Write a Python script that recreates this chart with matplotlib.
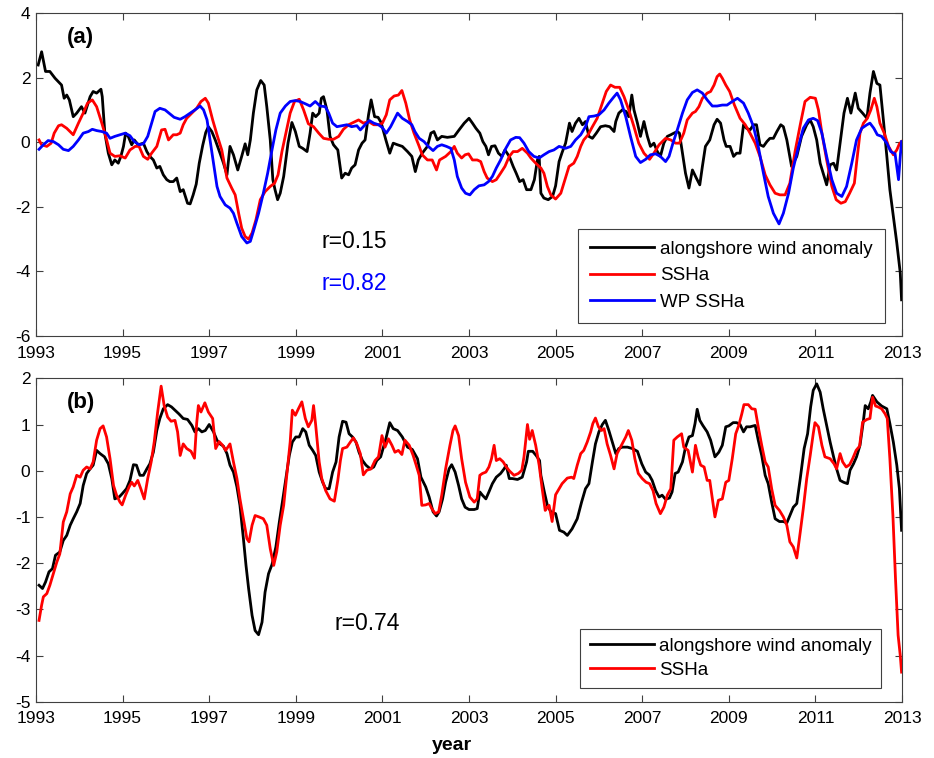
import numpy as np
import matplotlib.pyplot as plt

plt.rcParams['font.family'] = ['Liberation Sans', 'DejaVu Sans']
plt.rcParams['axes.unicode_minus'] = False

# ---- panel (a): alongshore wind anomaly, coastal SSHa, western Pacific SSHa ----
t_wind_a = [1993.05, 1993.13, 1993.22, 1993.32, 1993.44, 1993.59, 1993.65, 1993.71, 1993.77, 1993.86,
            1993.94, 1994.05, 1994.13, 1994.25, 1994.32, 1994.40, 1994.50, 1994.53, 1994.59, 1994.67,
            1994.75, 1994.82, 1994.90, 1994.96, 1995.02, 1995.07, 1995.13, 1995.21, 1995.27, 1995.36,
            1995.48, 1995.56, 1995.63, 1995.71, 1995.79, 1995.86, 1995.94, 1996.02, 1996.09, 1996.17,
            1996.25, 1996.33, 1996.40, 1996.50, 1996.56, 1996.63, 1996.70, 1996.77, 1996.85, 1996.92,
            1996.98, 1997.06, 1997.14, 1997.25, 1997.33, 1997.41, 1997.48, 1997.56, 1997.66, 1997.75,
            1997.83, 1997.89, 1997.95, 1998.02, 1998.10, 1998.19, 1998.27, 1998.33, 1998.41, 1998.47,
            1998.52, 1998.58, 1998.64, 1998.72, 1998.82, 1998.91, 1998.99, 1999.08, 1999.16, 1999.26,
            1999.33, 1999.39, 1999.46, 1999.54, 1999.59, 1999.64, 1999.72, 1999.79, 1999.87, 1999.97,
            2000.06, 2000.14, 2000.22, 2000.29, 2000.37, 2000.45, 2000.53, 2000.60, 2000.68, 2000.74,
            2000.82, 2000.90, 2000.97, 2001.08, 2001.17, 2001.25, 2001.35, 2001.46, 2001.58, 2001.68,
            2001.76, 2001.83, 2001.92, 2002.04, 2002.12, 2002.19, 2002.27, 2002.37, 2002.50, 2002.66,
            2002.77, 2002.89, 2003.00, 2003.08, 2003.16, 2003.25, 2003.32, 2003.39, 2003.45, 2003.52,
            2003.60, 2003.68, 2003.76, 2003.83, 2003.93, 2004.02, 2004.09, 2004.17, 2004.25, 2004.33,
            2004.43, 2004.51, 2004.58, 2004.62, 2004.66, 2004.73, 2004.83, 2004.93, 2005.00, 2005.08,
            2005.15, 2005.23, 2005.32, 2005.38, 2005.46, 2005.54, 2005.62, 2005.69, 2005.77, 2005.85,
            2005.94, 2006.04, 2006.15, 2006.25, 2006.35, 2006.39, 2006.46, 2006.54, 2006.63, 2006.69,
            2006.76, 2006.81, 2006.89, 2006.96, 2007.04, 2007.12, 2007.19, 2007.27, 2007.35, 2007.42,
            2007.50, 2007.58, 2007.66, 2007.73, 2007.81, 2007.86, 2007.93, 2008.00, 2008.08, 2008.16,
            2008.25, 2008.33, 2008.39, 2008.46, 2008.56, 2008.66, 2008.73, 2008.81, 2008.89, 2008.94,
            2009.03, 2009.11, 2009.18, 2009.26, 2009.34, 2009.41, 2009.49, 2009.57, 2009.64, 2009.72,
            2009.80, 2009.88, 2009.95, 2010.03, 2010.11, 2010.20, 2010.26, 2010.34, 2010.45, 2010.57,
            2010.68, 2010.80, 2010.88, 2010.95, 2011.03, 2011.11, 2011.18, 2011.26, 2011.34, 2011.42,
            2011.49, 2011.57, 2011.66, 2011.74, 2011.82, 2011.92, 2011.99, 2012.09, 2012.19, 2012.26,
            2012.34, 2012.42, 2012.49, 2012.57, 2012.65, 2012.72, 2012.80, 2012.88, 2012.96, 2012.99]
wind_a = [2.39, 2.80, 2.19, 2.19, 1.98, 1.77, 1.36, 1.46, 1.31, 0.79,
          0.90, 1.10, 0.90, 1.41, 1.57, 1.52, 1.64, 1.41, 0.28, -0.34,
          -0.70, -0.55, -0.65, -0.44, -0.13, 0.28, 0.18, -0.08, 0.07, -0.08,
          -0.03, -0.29, -0.44, -0.55, -0.80, -0.75, -1.01, -1.16, -1.22, -1.22,
          -1.11, -1.53, -1.47, -1.89, -1.91, -1.63, -1.30, -0.65, -0.10, 0.30,
          0.48, 0.33, 0.07, -0.34, -0.65, -1.01, -0.13, -0.39, -0.86, -0.44,
          -0.05, -0.39, 0.07, 0.90, 1.62, 1.91, 1.77, 1.10, 0.07, -1.16,
          -1.47, -1.78, -1.58, -1.06, -0.03, 0.61, 0.33, -0.13, -0.19, -0.29,
          0.28, 0.90, 0.79, 0.90, 1.36, 1.41, 1.00, 0.18, -0.08, -0.24,
          -1.11, -0.96, -1.01, -0.80, -0.70, -0.24, -0.03, 0.07, 0.85, 1.31,
          0.79, 0.77, 0.61, 0.07, -0.34, -0.03, -0.08, -0.13, -0.29, -0.44,
          -0.91, -0.55, -0.34, -0.13, 0.28, 0.33, 0.07, 0.18, 0.15, 0.18,
          0.38, 0.59, 0.74, 0.59, 0.43, 0.28, 0.02, -0.13, -0.39, -0.13,
          -0.11, -0.34, -0.44, -0.24, -0.44, -0.75, -0.96, -1.22, -1.16, -1.47,
          -1.47, -1.16, -0.55, -0.44, -1.58, -1.73, -1.78, -1.68, -1.35, -0.60,
          -0.32, -0.03, 0.59, 0.33, 0.59, 0.74, 0.54, 0.64, 0.18, 0.12,
          0.28, 0.48, 0.51, 0.48, 0.33, 0.64, 0.90, 1.00, 0.95, 0.79,
          1.46, 1.00, 0.59, 0.18, 0.64, 0.18, -0.13, -0.03, -0.29, -0.44,
          -0.03, 0.18, 0.23, 0.28, 0.33, 0.28, -0.34, -0.96, -1.42, -0.86,
          -1.11, -1.32, -0.75, -0.13, 0.07, 0.54, 0.71, 0.59, 0.07, -0.13,
          -0.13, -0.44, -0.34, -0.34, 0.54, 0.43, 0.38, 0.54, 0.54, -0.08,
          -0.13, 0.02, 0.12, 0.12, 0.33, 0.54, 0.48, 0.07, -0.75, -0.44,
          0.18, 0.54, 0.69, 0.48, 0.07, -0.65, -0.96, -1.32, -0.70, -0.65,
          -0.86, -0.03, 0.90, 1.36, 0.90, 1.52, 1.05, 0.90, 0.74, 1.52,
          2.19, 1.82, 1.77, 0.69, -0.44, -1.47, -2.30, -3.12, -4.05, -4.88]

t_ssh_a = [1993.07, 1993.13, 1993.25, 1993.35, 1993.42, 1993.52, 1993.59, 1993.71, 1993.86, 1993.98,
           1994.09, 1994.19, 1994.30, 1994.40, 1994.52, 1994.61, 1994.71, 1994.82, 1994.94, 1995.06,
           1995.17, 1995.29, 1995.38, 1995.48, 1995.58, 1995.67, 1995.79, 1995.90, 1995.98, 1996.06,
           1996.17, 1996.25, 1996.33, 1996.40, 1996.48, 1996.60, 1996.71, 1996.81, 1996.91, 1996.98,
           1997.08, 1997.18, 1997.29, 1997.41, 1997.52, 1997.60, 1997.68, 1997.75, 1997.83, 1997.91,
           1997.99, 1998.08, 1998.18, 1998.29, 1998.41, 1998.51, 1998.59, 1998.68, 1998.77, 1998.87,
           1998.97, 1999.08, 1999.18, 1999.29, 1999.41, 1999.53, 1999.64, 1999.76, 1999.87, 1999.99,
           2000.10, 2000.22, 2000.33, 2000.45, 2000.56, 2000.68, 2000.80, 2000.91, 2001.00, 2001.09,
           2001.17, 2001.27, 2001.37, 2001.45, 2001.54, 2001.63, 2001.73, 2001.85, 2001.92, 2002.04,
           2002.15, 2002.25, 2002.32, 2002.46, 2002.58, 2002.66, 2002.73, 2002.83, 2002.91, 2002.99,
           2003.08, 2003.19, 2003.27, 2003.35, 2003.42, 2003.54, 2003.63, 2003.73, 2003.83, 2003.93,
           2004.02, 2004.12, 2004.23, 2004.35, 2004.43, 2004.54, 2004.66, 2004.73, 2004.81, 2004.89,
           2005.00, 2005.12, 2005.19, 2005.31, 2005.42, 2005.50, 2005.58, 2005.65, 2005.75, 2005.85,
           2005.96, 2006.08, 2006.17, 2006.27, 2006.37, 2006.48, 2006.58, 2006.69, 2006.81, 2006.92,
           2007.04, 2007.17, 2007.27, 2007.39, 2007.54, 2007.66, 2007.77, 2007.86, 2007.96, 2008.04,
           2008.16, 2008.23, 2008.31, 2008.39, 2008.50, 2008.58, 2008.66, 2008.73, 2008.79, 2008.85,
           2008.93, 2009.02, 2009.13, 2009.26, 2009.38, 2009.49, 2009.61, 2009.72, 2009.84, 2009.95,
           2010.07, 2010.18, 2010.30, 2010.41, 2010.53, 2010.65, 2010.76, 2010.88, 2011.00, 2011.07,
           2011.15, 2011.26, 2011.38, 2011.48, 2011.59, 2011.69, 2011.79, 2011.90, 2011.95, 2012.03,
           2012.11, 2012.20, 2012.28, 2012.36, 2012.42, 2012.49, 2012.59, 2012.69, 2012.80, 2012.88,
           2012.94, 2012.99]
ssh_a = [0.07, -0.08, -0.13, -0.03, 0.28, 0.51, 0.54, 0.43, 0.23, 0.59,
         0.90, 1.21, 1.31, 1.10, 0.59, 0.18, -0.34, -0.44, -0.42, -0.49,
         -0.24, -0.13, -0.13, -0.44, -0.53, -0.34, -0.13, 0.38, 0.40, 0.07,
         0.23, 0.23, 0.28, 0.54, 0.74, 0.90, 1.05, 1.26, 1.36, 1.21,
         0.69, 0.23, -0.24, -1.11, -1.42, -1.63, -2.20, -2.66, -2.92, -3.00,
         -2.81, -2.40, -1.78, -1.53, -1.37, -1.27, -1.01, -0.29, 0.28, 0.90,
         1.26, 1.33, 1.00, 0.57, 0.48, 0.28, 0.12, 0.09, 0.09, 0.18,
         0.40, 0.54, 0.61, 0.69, 0.59, 0.64, 0.54, 0.54, 0.59, 0.85,
         1.31, 1.43, 1.46, 1.60, 1.21, 0.69, 0.28, -0.13, -0.39, -0.55,
         -0.55, -0.86, -0.55, -0.44, -0.29, -0.13, -0.34, -0.49, -0.39, -0.36,
         -0.55, -0.55, -0.60, -0.91, -1.11, -1.22, -1.16, -0.96, -0.75, -0.44,
         -0.29, -0.29, -0.19, -0.34, -0.49, -0.65, -0.80, -0.96, -1.37, -1.63,
         -1.76, -1.58, -1.27, -0.75, -0.65, -0.44, -0.13, 0.07, 0.23, 0.48,
         0.74, 1.21, 1.57, 1.77, 1.70, 1.70, 1.41, 1.00, 0.48, -0.03,
         -0.34, -0.53, -0.34, -0.08, 0.12, 0.07, -0.03, -0.03, 0.28, 0.69,
         0.90, 0.95, 1.10, 1.36, 1.52, 1.57, 1.77, 2.03, 2.11, 1.98,
         1.77, 1.57, 1.15, 0.74, 0.54, 0.28, -0.03, -0.44, -1.01, -1.32,
         -1.58, -1.63, -1.63, -1.27, -0.29, 0.54, 1.26, 1.39, 1.36, 1.00,
         0.28, -0.55, -1.37, -1.78, -1.89, -1.84, -1.58, -1.27, -0.65, 0.28,
         0.59, 0.74, 1.00, 1.36, 1.10, 0.59, 0.28, -0.13, -0.39, -0.24,
         -0.05, 0.02]

t_wp = [1993.07, 1993.17, 1993.28, 1993.40, 1993.52, 1993.63, 1993.75, 1993.86, 1993.98, 1994.09,
        1994.21, 1994.30, 1994.40, 1994.52, 1994.63, 1994.71, 1994.82, 1994.94, 1995.06, 1995.17,
        1995.27, 1995.38, 1995.48, 1995.58, 1995.67, 1995.75, 1995.86, 1995.98, 1996.07, 1996.19,
        1996.33, 1996.44, 1996.56, 1996.67, 1996.79, 1996.87, 1996.95, 1997.02, 1997.10, 1997.18,
        1997.25, 1997.37, 1997.48, 1997.56, 1997.64, 1997.75, 1997.87, 1997.95, 1998.02, 1998.14,
        1998.25, 1998.35, 1998.45, 1998.54, 1998.64, 1998.76, 1998.87, 1998.99, 1999.10, 1999.22,
        1999.33, 1999.45, 1999.56, 1999.68, 1999.76, 1999.85, 1999.95, 2000.06, 2000.18, 2000.29,
        2000.41, 2000.49, 2000.60, 2000.70, 2000.80, 2000.91, 2001.00, 2001.09, 2001.19, 2001.27,
        2001.35, 2001.46, 2001.58, 2001.68, 2001.75, 2001.85, 2001.96, 2002.06, 2002.17, 2002.27,
        2002.37, 2002.48, 2002.58, 2002.66, 2002.73, 2002.83, 2002.92, 2003.02, 2003.12, 2003.23,
        2003.35, 2003.45, 2003.54, 2003.63, 2003.73, 2003.85, 2003.96, 2004.08, 2004.17, 2004.27,
        2004.38, 2004.50, 2004.62, 2004.73, 2004.85, 2004.96, 2005.08, 2005.23, 2005.35, 2005.46,
        2005.58, 2005.69, 2005.77, 2005.89, 2006.00, 2006.12, 2006.23, 2006.35, 2006.42, 2006.50,
        2006.62, 2006.73, 2006.85, 2006.96, 2007.08, 2007.19, 2007.31, 2007.42, 2007.54, 2007.62,
        2007.71, 2007.81, 2007.93, 2008.04, 2008.16, 2008.27, 2008.39, 2008.50, 2008.62, 2008.73,
        2008.85, 2008.96, 2009.08, 2009.20, 2009.34, 2009.45, 2009.57, 2009.68, 2009.80, 2009.91,
        2010.03, 2010.16, 2010.26, 2010.38, 2010.49, 2010.61, 2010.72, 2010.84, 2010.95, 2011.05,
        2011.15, 2011.26, 2011.38, 2011.49, 2011.61, 2011.72, 2011.84, 2011.95, 2012.07, 2012.19,
        2012.26, 2012.35, 2012.43, 2012.53, 2012.65, 2012.74, 2012.84, 2012.92, 2012.96, 2012.99]
wp_ssh = [-0.22, -0.08, 0.05, 0.02, -0.08, -0.22, -0.26, -0.13, 0.07, 0.28,
          0.33, 0.40, 0.36, 0.33, 0.28, 0.12, 0.18, 0.23, 0.28, 0.20,
          0.02, -0.08, -0.05, 0.18, 0.59, 0.95, 1.05, 1.00, 0.90, 0.77,
          0.71, 0.79, 0.90, 1.00, 1.12, 1.00, 0.69, 0.07, -0.65, -1.37,
          -1.68, -1.94, -2.04, -2.20, -2.51, -2.92, -3.12, -3.07, -2.76, -2.20,
          -1.58, -0.96, -0.24, 0.38, 0.90, 1.12, 1.26, 1.29, 1.26, 1.19,
          1.12, 1.26, 1.12, 1.10, 0.90, 0.59, 0.48, 0.51, 0.54, 0.48,
          0.51, 0.38, 0.54, 0.67, 0.59, 0.54, 0.45, 0.28, 0.48, 0.69,
          0.90, 0.74, 0.64, 0.54, 0.33, 0.12, 0.02, -0.13, -0.26, -0.13,
          -0.08, -0.13, -0.19, -0.55, -1.06, -1.42, -1.58, -1.63, -1.47, -1.35,
          -1.32, -1.22, -1.06, -0.80, -0.55, -0.19, 0.07, 0.15, 0.14, -0.03,
          -0.29, -0.44, -0.49, -0.39, -0.29, -0.24, -0.13, -0.19, -0.13, 0.07,
          0.23, 0.48, 0.79, 0.81, 0.85, 1.00, 1.21, 1.41, 1.52, 1.31,
          0.79, 0.18, -0.44, -0.63, -0.53, -0.39, -0.36, -0.44, -0.60, -0.44,
          -0.03, 0.38, 0.90, 1.31, 1.54, 1.62, 1.52, 1.31, 1.12, 1.12,
          1.15, 1.15, 1.26, 1.36, 1.21, 0.90, 0.48, -0.13, -0.96, -1.68,
          -2.20, -2.53, -2.20, -1.58, -0.80, -0.13, 0.43, 0.69, 0.74, 0.67,
          0.28, -0.44, -1.16, -1.58, -1.68, -1.37, -0.65, 0.07, 0.43, 0.54,
          0.59, 0.43, 0.23, 0.18, -0.03, -0.29, -0.36, -1.16, -0.44, 0.02]

# ---- panel (b): alongshore wind anomaly and SSHa ----
t_wind_b = [1993.07, 1993.15, 1993.22, 1993.30, 1993.38, 1993.45, 1993.55, 1993.63, 1993.71, 1993.79,
            1993.86, 1993.94, 1994.02, 1994.09, 1994.17, 1994.25, 1994.32, 1994.40, 1994.48, 1994.58,
            1994.67, 1994.75, 1994.82, 1994.92, 1994.99, 1995.09, 1995.17, 1995.25, 1995.32, 1995.40,
            1995.48, 1995.56, 1995.63, 1995.71, 1995.79, 1995.86, 1995.94, 1996.04, 1996.13, 1996.21,
            1996.30, 1996.40, 1996.50, 1996.60, 1996.67, 1996.75, 1996.83, 1996.91, 1997.00, 1997.10,
            1997.18, 1997.25, 1997.33, 1997.41, 1997.48, 1997.56, 1997.64, 1997.71, 1997.79, 1997.85,
            1997.91, 1997.99, 1998.06, 1998.14, 1998.22, 1998.29, 1998.37, 1998.45, 1998.54, 1998.62,
            1998.69, 1998.77, 1998.85, 1998.92, 1999.00, 1999.08, 1999.16, 1999.23, 1999.31, 1999.39,
            1999.46, 1999.54, 1999.62, 1999.69, 1999.77, 1999.85, 1999.93, 2000.00, 2000.08, 2000.16,
            2000.23, 2000.31, 2000.39, 2000.46, 2000.54, 2000.62, 2000.72, 2000.80, 2000.87, 2000.96,
            2001.08, 2001.17, 2001.25, 2001.35, 2001.46, 2001.58, 2001.69, 2001.81, 2001.89, 2002.00,
            2002.08, 2002.17, 2002.25, 2002.31, 2002.39, 2002.46, 2002.54, 2002.60, 2002.68, 2002.76,
            2002.83, 2002.91, 2003.00, 2003.12, 2003.19, 2003.25, 2003.31, 2003.39, 2003.46, 2003.54,
            2003.63, 2003.73, 2003.81, 2003.86, 2003.93, 2004.00, 2004.12, 2004.23, 2004.33, 2004.37,
            2004.47, 2004.55, 2004.63, 2004.66, 2004.74, 2004.81, 2004.89, 2005.00, 2005.09, 2005.19,
            2005.27, 2005.38, 2005.50, 2005.60, 2005.69, 2005.77, 2005.85, 2005.92, 2006.00, 2006.08,
            2006.15, 2006.23, 2006.31, 2006.39, 2006.46, 2006.54, 2006.66, 2006.77, 2006.89, 2006.99,
            2007.08, 2007.16, 2007.23, 2007.31, 2007.39, 2007.46, 2007.54, 2007.63, 2007.69, 2007.76,
            2007.83, 2007.93, 2008.00, 2008.08, 2008.16, 2008.22, 2008.27, 2008.33, 2008.40, 2008.50,
            2008.58, 2008.68, 2008.77, 2008.85, 2008.93, 2009.00, 2009.10, 2009.18, 2009.26, 2009.34,
            2009.41, 2009.49, 2009.61, 2009.68, 2009.76, 2009.84, 2009.91, 2009.99, 2010.07, 2010.17,
            2010.26, 2010.34, 2010.41, 2010.49, 2010.57, 2010.65, 2010.74, 2010.82, 2010.89, 2010.95,
            2011.03, 2011.11, 2011.18, 2011.26, 2011.34, 2011.42, 2011.49, 2011.57, 2011.65, 2011.74,
            2011.80, 2011.88, 2011.95, 2012.03, 2012.11, 2012.15, 2012.22, 2012.28, 2012.32, 2012.42,
            2012.53, 2012.65, 2012.72, 2012.80, 2012.88, 2012.94, 2012.99]
wind_b = [-2.48, -2.55, -2.41, -2.19, -2.12, -1.83, -1.76, -1.51, -1.40, -1.18,
          -1.04, -0.89, -0.71, -0.32, -0.06, 0.04, 0.12, 0.44, 0.37, 0.30,
          0.15, -0.17, -0.61, -0.57, -0.50, -0.39, -0.21, 0.13, 0.12, -0.10,
          -0.10, 0.04, 0.15, 0.40, 0.87, 1.13, 1.34, 1.43, 1.38, 1.31,
          1.23, 1.13, 1.11, 0.98, 0.84, 0.91, 0.84, 0.87, 1.00, 0.84,
          0.66, 0.58, 0.53, 0.37, 0.12, -0.03, -0.35, -0.75, -1.47, -2.05,
          -2.55, -3.13, -3.46, -3.55, -3.28, -2.63, -2.23, -2.03, -1.65, -1.11,
          -0.68, -0.17, 0.33, 0.62, 0.73, 0.73, 0.91, 0.84, 0.55, 0.44,
          0.33, -0.03, -0.25, -0.39, -0.39, -0.03, 0.19, 0.73, 1.07, 1.05,
          0.80, 0.73, 0.62, 0.40, 0.22, 0.12, 0.04, 0.08, 0.22, 0.30,
          0.69, 1.04, 0.91, 0.87, 0.73, 0.51, 0.46, 0.26, -0.14, -0.35,
          -0.57, -0.89, -0.98, -0.89, -0.61, -0.25, 0.04, 0.13, -0.03, -0.32,
          -0.61, -0.79, -0.84, -0.84, -0.82, -0.46, -0.53, -0.61, -0.46, -0.28,
          -0.14, -0.06, 0.04, 0.12, -0.17, -0.17, -0.19, -0.14, 0.19, 0.42,
          0.42, 0.33, 0.22, -0.10, -0.46, -0.75, -0.89, -0.93, -1.29, -1.33,
          -1.40, -1.26, -1.04, -0.68, -0.39, -0.28, 0.19, 0.58, 0.84, 1.00,
          1.09, 0.87, 0.62, 0.37, 0.48, 0.51, 0.51, 0.48, 0.42, 0.15,
          -0.03, -0.09, -0.21, -0.43, -0.57, -0.53, -0.62, -0.59, -0.46, -0.06,
          -0.03, 0.19, 0.51, 0.73, 0.76, 1.02, 1.33, 1.09, 0.98, 0.84,
          0.66, 0.30, 0.40, 0.55, 0.95, 0.97, 1.04, 1.04, 1.00, 0.84,
          0.95, 0.95, 0.98, 0.66, 0.33, -0.10, -0.28, -0.68, -1.04, -1.10,
          -1.10, -1.13, -0.97, -0.79, -0.71, -0.17, 0.48, 0.80, 1.38, 1.74,
          1.88, 1.70, 1.34, 0.98, 0.62, 0.30, 0.04, -0.21, -0.25, -0.28,
          0.01, 0.15, 0.30, 0.55, 1.09, 1.41, 1.34, 1.49, 1.63, 1.49,
          1.40, 1.34, 1.02, 0.62, 0.12, -0.39, -1.29]

t_ssh_b = [1993.07, 1993.13, 1993.17, 1993.25, 1993.32, 1993.40, 1993.48, 1993.55, 1993.63, 1993.71,
           1993.79, 1993.86, 1993.94, 1994.02, 1994.09, 1994.17, 1994.25, 1994.32, 1994.40, 1994.48,
           1994.55, 1994.63, 1994.71, 1994.79, 1994.86, 1994.94, 1994.99, 1995.07, 1995.15, 1995.21,
           1995.27, 1995.35, 1995.42, 1995.50, 1995.58, 1995.66, 1995.73, 1995.81, 1995.89, 1995.96,
           1996.04, 1996.12, 1996.21, 1996.27, 1996.33, 1996.40, 1996.48, 1996.58, 1996.66, 1996.71,
           1996.75, 1996.81, 1996.90, 1996.98, 1997.08, 1997.15, 1997.23, 1997.31, 1997.38, 1997.48,
           1997.56, 1997.64, 1997.71, 1997.79, 1997.87, 1997.92, 1997.99, 1998.06, 1998.15, 1998.25,
           1998.33, 1998.41, 1998.49, 1998.56, 1998.64, 1998.72, 1998.79, 1998.87, 1998.92, 1998.99,
           1999.06, 1999.14, 1999.22, 1999.29, 1999.37, 1999.41, 1999.46, 1999.54, 1999.60, 1999.69,
           1999.79, 1999.89, 1999.97, 2000.03, 2000.08, 2000.18, 2000.26, 2000.33, 2000.41, 2000.49,
           2000.56, 2000.64, 2000.74, 2000.83, 2000.91, 2000.99, 2001.06, 2001.14, 2001.22, 2001.29,
           2001.37, 2001.45, 2001.52, 2001.62, 2001.71, 2001.78, 2001.85, 2001.91, 2002.00, 2002.08,
           2002.14, 2002.22, 2002.30, 2002.37, 2002.46, 2002.56, 2002.63, 2002.68, 2002.76, 2002.83,
           2002.92, 2003.02, 2003.12, 2003.19, 2003.25, 2003.31, 2003.39, 2003.46, 2003.52, 2003.58,
           2003.63, 2003.71, 2003.79, 2003.86, 2003.94, 2004.04, 2004.14, 2004.22, 2004.27, 2004.35,
           2004.40, 2004.46, 2004.54, 2004.62, 2004.69, 2004.76, 2004.81, 2004.85, 2004.92, 2005.00,
           2005.08, 2005.15, 2005.27, 2005.37, 2005.42, 2005.50, 2005.58, 2005.65, 2005.73, 2005.81,
           2005.86, 2005.92, 2005.99, 2006.06, 2006.12, 2006.19, 2006.27, 2006.35, 2006.42, 2006.52,
           2006.62, 2006.68, 2006.76, 2006.83, 2006.91, 2007.00, 2007.09, 2007.17, 2007.25, 2007.32,
           2007.42, 2007.50, 2007.58, 2007.66, 2007.73, 2007.81, 2007.91, 2007.96, 2008.06, 2008.16,
           2008.23, 2008.29, 2008.35, 2008.43, 2008.50, 2008.56, 2008.62, 2008.68, 2008.76, 2008.85,
           2008.93, 2009.00, 2009.08, 2009.16, 2009.23, 2009.30, 2009.35, 2009.45, 2009.53, 2009.61,
           2009.68, 2009.76, 2009.84, 2009.91, 2009.99, 2010.07, 2010.17, 2010.26, 2010.34, 2010.41,
           2010.49, 2010.57, 2010.65, 2010.72, 2010.80, 2010.88, 2010.95, 2010.99, 2011.07, 2011.15,
           2011.22, 2011.34, 2011.43, 2011.49, 2011.57, 2011.63, 2011.71, 2011.79, 2011.86, 2011.94,
           2012.02, 2012.09, 2012.19, 2012.26, 2012.32, 2012.39, 2012.45, 2012.53, 2012.61, 2012.66,
           2012.72, 2012.79, 2012.85, 2012.91, 2012.96, 2012.99]
ssh_b = [-3.24, -2.91, -2.73, -2.66, -2.48, -2.23, -1.98, -1.80, -1.11, -0.89,
         -0.50, -0.35, -0.10, -0.14, 0.01, 0.08, 0.04, 0.19, 0.66, 0.91,
         0.97, 0.73, 0.26, -0.32, -0.53, -0.68, -0.74, -0.53, -0.35, -0.25,
         -0.33, -0.21, -0.39, -0.61, -0.17, 0.19, 0.62, 1.27, 1.83, 1.41,
         1.16, 1.07, 1.09, 0.84, 0.33, 0.58, 0.48, 0.42, 0.27, 1.02,
         1.41, 1.27, 1.47, 1.27, 1.13, 0.48, 0.63, 0.55, 0.44, 0.58,
         0.19, -0.17, -0.61, -1.04, -1.47, -1.54, -1.18, -0.97, -1.00, -1.04,
         -1.18, -1.69, -2.05, -1.76, -1.18, -0.75, -0.10, 0.62, 1.31, 1.20,
         1.34, 1.49, 1.13, 0.95, 1.09, 1.41, 0.98, 0.19, -0.17, -0.43,
         -0.61, -0.66, -0.21, 0.22, 0.48, 0.51, 0.62, 0.71, 0.58, 0.37,
         -0.09, 0.01, 0.04, 0.22, 0.30, 0.76, 0.51, 0.69, 0.55, 0.40,
         0.44, 0.35, 0.66, 0.55, 0.33, 0.12, -0.10, -0.75, -0.74, -0.71,
         -0.82, -0.93, -0.89, -0.53, 0.04, 0.55, 0.87, 0.97, 0.76, 0.26,
         -0.25, -0.57, -0.68, -0.61, -0.10, -0.06, -0.03, 0.08, 0.26, 0.55,
         0.22, 0.26, 0.19, 0.08, -0.01, -0.10, -0.06, 0.01, 0.30, 1.00,
         0.68, 0.87, 0.55, 0.12, -0.39, -0.86, -0.79, -0.75, -1.10, -0.52,
         -0.39, -0.28, -0.16, -0.14, -0.17, 0.12, 0.37, 0.44, 0.62, 0.84,
         1.02, 1.14, 0.95, 0.87, 0.91, 0.58, 0.33, 0.04, 0.37, 0.55,
         0.73, 0.87, 0.66, 0.26, -0.06, -0.17, -0.25, -0.28, -0.43, -0.71,
         -0.93, -0.79, -0.53, -0.39, 0.66, 0.73, 0.80, 0.51, 0.44, -0.03,
         0.55, 0.30, 0.12, 0.08, -0.21, -0.21, -0.61, -1.00, -0.64, -0.61,
         -0.25, -0.21, 0.26, 0.80, 0.98, 1.23, 1.43, 1.43, 1.34, 1.33,
         0.95, 0.55, 0.19, 0.08, -0.39, -0.75, -0.86, -1.00, -1.18, -1.54,
         -1.65, -1.89, -1.33, -0.82, -0.17, 0.33, 0.80, 1.04, 0.95, 0.55,
         0.30, 0.26, 0.15, 0.04, 0.37, 0.19, 0.08, 0.13, 0.26, 0.44,
         0.53, 1.05, 1.11, 1.13, 1.59, 1.40, 1.38, 1.34, 1.23, 1.13,
         0.26, -0.97, -2.34, -3.56, -4.00, -4.36]

labels_a = ['alongshore wind anomaly', 'SSHa', 'WP SSHa']
labels_b = ['alongshore wind anomaly', 'SSHa']
year_ticks = np.arange(1993, 2014, 2)

W, H = 934, 758
fig = plt.figure(figsize=(W / 100, H / 100), dpi=100)
ax1 = fig.add_axes([36 / W, 1 - 336 / H, 866 / W, 323 / H])
ax2 = fig.add_axes([36 / W, 1 - 701.7 / H, 866 / W, 323.4 / H])

lw = 2.0
ax1.plot(t_wind_a, wind_a, color='black', lw=lw, label=labels_a[0])
ax1.plot(t_ssh_a, ssh_a, color='red', lw=lw, label=labels_a[1])
ax1.plot(t_wp, wp_ssh, color='blue', lw=lw, label=labels_a[2])
ax1.set_ylim(-6, 4)
ax1.set_yticks(np.arange(-6, 5, 2))

ax2.plot(t_wind_b, wind_b, color='black', lw=lw, label=labels_b[0])
ax2.plot(t_ssh_b, ssh_b, color='red', lw=lw, label=labels_b[1])
ax2.set_ylim(-5, 2)
ax2.set_yticks(np.arange(-5, 3, 1))

for ax in (ax1, ax2):
    ax.set_xlim(1993, 2013)
    ax.set_xticks(year_ticks)
    ax.tick_params(direction='in', top=True, right=True, length=5, width=0.8,
                   labelsize=12.5, color='#404040')
    ax.tick_params(axis='x', pad=7)
    ax.tick_params(axis='y', pad=4)
    for sp in ax.spines.values():
        sp.set_color('#404040')
        sp.set_linewidth(0.8)

leg1 = ax1.legend(loc='lower right', bbox_to_anchor=(0.980, 0.040), borderaxespad=0,
                  fontsize=13.5, handlelength=3.4, handletextpad=0.3,
                  labelspacing=0.5, borderpad=0.65, fancybox=False, framealpha=1)
leg2 = ax2.legend(loc='lower right', bbox_to_anchor=(0.976, 0.042), borderaxespad=0,
                  fontsize=13.5, handlelength=3.4, handletextpad=0.3,
                  labelspacing=0.35, borderpad=0.5, fancybox=False, framealpha=1)
for leg in (leg1, leg2):
    leg.get_frame().set_edgecolor('#404040')
    leg.get_frame().set_linewidth(0.8)

ax1.text(0.036, 0.923, '(a)', transform=ax1.transAxes, fontsize=16,
         fontweight='bold', ha='left', va='center')
ax2.text(0.036, 0.924, '(b)', transform=ax2.transAxes, fontsize=16,
         fontweight='bold', ha='left', va='center')

ax1.text(0.368, 0.294, 'r=0.15', transform=ax1.transAxes, fontsize=16.5,
         color='black', ha='center', va='center')
ax1.text(0.368, 0.164, 'r=0.82', transform=ax1.transAxes, fontsize=16.5,
         color='blue', ha='center', va='center')
ax2.text(0.382, 0.243, 'r=0.74', transform=ax2.transAxes, fontsize=16.5,
         color='black', ha='center', va='center')

fig.text(452 / W, 1 - 745 / H, 'year', fontsize=14, fontweight='bold',
         ha='center', va='center')

fig.savefig('out.png', dpi=100)
